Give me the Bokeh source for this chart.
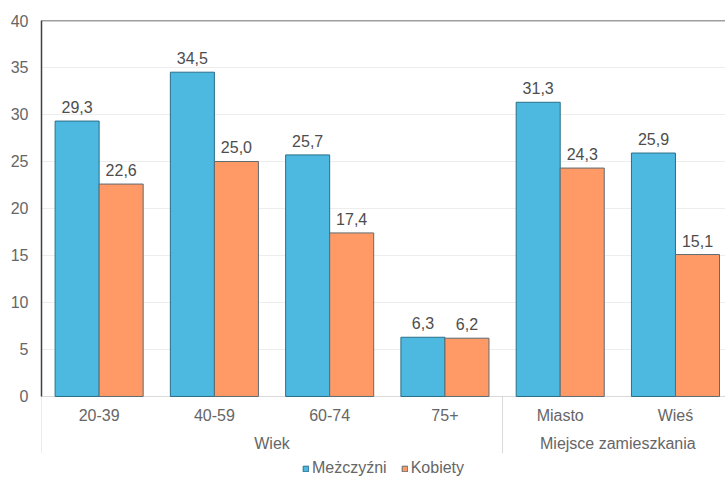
import numpy as np
from bokeh.plotting import figure
from bokeh.models import (ColumnDataSource, Range1d, FixedTicker, Legend, LegendItem)
from bokeh.embed import file_html
from bokeh.resources import INLINE
from bokeh.core.properties import value

# --- data -------------------------------------------------------------
categories = ["20-39", "40-59", "60-74", "75+", "Miasto", "Wieś"]
groups = ["Wiek", "Miejsce zamieszkania"]
group_sizes = [4, 2]
men = [29.3, 34.5, 25.7, 6.3, 31.3, 25.9]
women = [22.6, 25.0, 17.4, 6.2, 24.3, 15.1]
series_names = ["Meżczyźni", "Kobiety"]
y_ticks = [0, 5, 10, 15, 20, 25, 30, 35, 40]

# --- styling ----------------------------------------------------------
FONT = "Liberation Sans"
FS = "16px"
BLUE, BLUE_EDGE = "#4DB8E0", "#2A6F88"
ORANGE, ORANGE_EDGE = "#FF9A66", "#5E6B72"
TEXT = "#666666"
LABEL = "#4D4D4D"
bar_w = 0.382

centers = np.arange(len(categories)) + 0.5
fmt = lambda v: f"{v:.1f}".replace(".", ",")

men_src = ColumnDataSource(dict(x=centers - bar_w / 2, top=men,
                                label=[fmt(v) for v in men]))
women_src = ColumnDataSource(dict(x=centers + bar_w / 2, top=women,
                                  label=[fmt(v) for v in women]))

x_end = 5.934
y_start = -8.62
p = figure(width=725, height=477, output_backend="svg", toolbar_location=None,
           x_range=Range1d(0, x_end), y_range=Range1d(y_start, 40),
           x_axis_location=None, min_border_left=41, min_border_right=0,
           min_border_top=20, min_border_bottom=0)
p.outline_line_color = None
p.background_fill_color = "white"
p.border_fill_color = "white"

# grid
p.xgrid.visible = False
p.ygrid.ticker = FixedTicker(ticks=y_ticks[1:-1])
p.ygrid.grid_line_color = "#EDEDED"

# y axis
ya = p.yaxis[0]
ya.ticker = FixedTicker(ticks=y_ticks)
ya.bounds = (0, 40)
ya.axis_line_color = "#404040"
ya.axis_line_width = 1.5
ya.major_tick_line_color = None
ya.minor_tick_line_color = None
ya.major_tick_out = 0
ya.major_tick_in = 0
ya.major_label_standoff = 13
ya.major_label_text_font = FONT
ya.major_label_text_font_size = FS
ya.major_label_text_color = TEXT

# frame lines: top border, baseline, category separators
p.segment(x0=[0], y0=[40], x1=[x_end], y1=[40], line_color="#404040", line_width=1.5)
p.segment(x0=[0], y0=[0], x1=[x_end], y1=[0], line_color="#D9D9D9", line_width=1)
bounds = np.concatenate([[0], np.cumsum(group_sizes)[:-1]])
p.segment(x0=bounds, y0=np.zeros(len(bounds)), x1=bounds,
          y1=np.full(len(bounds), -6.06), line_color="#D9D9D9", line_width=1)

# bars
r_men = p.vbar(x="x", top="top", width=bar_w, bottom=0, source=men_src,
               fill_color=BLUE, line_color=BLUE_EDGE, line_width=1)
r_women = p.vbar(x="x", top="top", width=bar_w, bottom=0, source=women_src,
                 fill_color=ORANGE, line_color=ORANGE_EDGE, line_width=1)

# value labels
for src in (men_src, women_src):
    p.text(x="x", y="top", text="label", source=src, text_align="center",
           text_baseline="middle", y_offset=-14, text_font=value(FONT),
           text_font_size=FS, text_color=LABEL)

# category and group labels
p.text(x=centers, y=np.full(len(centers), -2.02), text=categories,
       text_align="center", text_baseline="middle", text_font=value(FONT),
       text_font_size=FS, text_color=TEXT)
group_centers = bounds + np.array(group_sizes) / 2
p.text(x=group_centers, y=np.full(len(groups), -5.0), text=groups,
       text_align="center", text_baseline="middle", text_font=value(FONT),
       text_font_size=FS, text_color=TEXT)

# legend
legend = Legend(items=[LegendItem(label=series_names[0], renderers=[r_men]),
                       LegendItem(label=series_names[1], renderers=[r_women])],
                location="bottom_center", orientation="horizontal",
                border_line_alpha=0, background_fill_alpha=0,
                label_text_font=FONT, label_text_font_size=FS,
                label_text_color=TEXT, glyph_width=7, glyph_height=7,
                label_height=14, label_standoff=3, spacing=14,
                padding=0, margin=0)
p.add_layout(legend)

open("out.html", "w").write(file_html(p, INLINE))
